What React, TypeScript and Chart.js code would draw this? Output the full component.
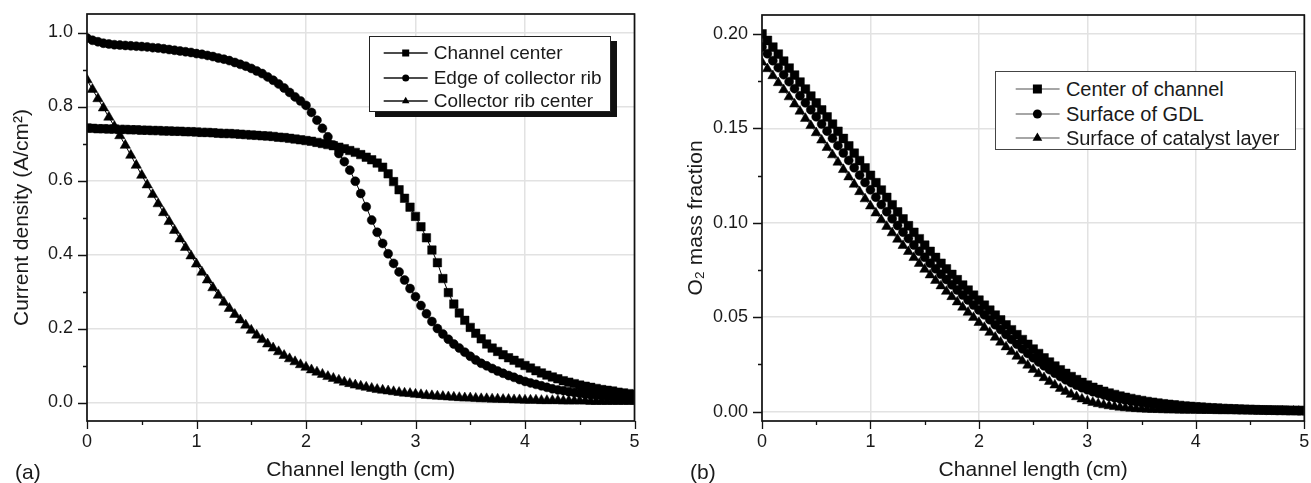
import React, { useEffect, useRef } from "react";
import { Chart, registerables } from "chart.js";

Chart.register(...registerables);

const FONT = "'Liberation Sans', Arial, Helvetica, sans-serif";

// ---------- data ----------
const channelX = [
  0, 0.05, 0.1, 0.15, 0.2, 0.25, 0.3, 0.35, 0.4, 0.45,
  0.5, 0.55, 0.6, 0.65, 0.7, 0.75, 0.8, 0.85, 0.9, 0.95,
  1, 1.05, 1.1, 1.15, 1.2, 1.25, 1.3, 1.35, 1.4, 1.45,
  1.5, 1.55, 1.6, 1.65, 1.7, 1.75, 1.8, 1.85, 1.9, 1.95,
  2, 2.05, 2.1, 2.15, 2.2, 2.25, 2.3, 2.35, 2.4, 2.45,
  2.5, 2.55, 2.6, 2.65, 2.7, 2.75, 2.8, 2.85, 2.9, 2.95,
  3, 3.05, 3.1, 3.15, 3.2, 3.25, 3.3, 3.35, 3.4, 3.45,
  3.5, 3.55, 3.6, 3.65, 3.7, 3.75, 3.8, 3.85, 3.9, 3.95,
  4, 4.05, 4.1, 4.15, 4.2, 4.25, 4.3, 4.35, 4.4, 4.45,
  4.5, 4.55, 4.6, 4.65, 4.7, 4.75, 4.8, 4.85, 4.9, 4.95, 5,
];

// (a) current density, A/cm2
const channelCenterA = [
  0.742, 0.741, 0.740, 0.740, 0.739, 0.739, 0.738, 0.738, 0.737, 0.737,
  0.736, 0.736, 0.735, 0.735, 0.734, 0.734, 0.733, 0.733, 0.732, 0.732,
  0.731, 0.730, 0.730, 0.729, 0.728, 0.727, 0.727, 0.726, 0.725, 0.724,
  0.723, 0.722, 0.721, 0.720, 0.719, 0.717, 0.716, 0.714, 0.712, 0.710,
  0.708, 0.706, 0.703, 0.700, 0.697, 0.694, 0.690, 0.686, 0.681, 0.676,
  0.670, 0.663, 0.656, 0.647, 0.636, 0.618, 0.597, 0.575, 0.552, 0.528,
  0.503, 0.475, 0.445, 0.412, 0.378, 0.335, 0.297, 0.266, 0.242, 0.222,
  0.203, 0.187, 0.172, 0.158, 0.147, 0.138, 0.129, 0.121, 0.114, 0.107,
  0.100, 0.093, 0.086, 0.080, 0.074, 0.069, 0.064, 0.059, 0.055, 0.051,
  0.047, 0.044, 0.041, 0.038, 0.035, 0.033, 0.031, 0.028, 0.026, 0.024, 0.022,
];
const ribEdgeA = [
  0.985, 0.979, 0.975, 0.971, 0.969, 0.967, 0.966, 0.965, 0.964, 0.963,
  0.962, 0.961, 0.959, 0.958, 0.956, 0.954, 0.952, 0.950, 0.948, 0.946,
  0.943, 0.941, 0.938, 0.935, 0.931, 0.928, 0.924, 0.919, 0.914, 0.909,
  0.903, 0.896, 0.889, 0.880, 0.871, 0.861, 0.850, 0.838, 0.826, 0.815,
  0.803, 0.784, 0.763, 0.741, 0.718, 0.696, 0.673, 0.651, 0.628, 0.598,
  0.565, 0.529, 0.493, 0.460, 0.430, 0.402, 0.376, 0.353, 0.331, 0.308,
  0.286, 0.262, 0.240, 0.219, 0.200, 0.185, 0.171, 0.158, 0.147, 0.136,
  0.125, 0.115, 0.106, 0.099, 0.092, 0.085, 0.079, 0.073, 0.068, 0.062,
  0.057, 0.053, 0.049, 0.045, 0.041, 0.037, 0.034, 0.032, 0.029, 0.027,
  0.025, 0.023, 0.021, 0.020, 0.018, 0.017, 0.016, 0.015, 0.014, 0.013, 0.012,
];
const ribCenterA = [
  0.872, 0.846, 0.821, 0.796, 0.771, 0.746, 0.721, 0.695, 0.668, 0.641,
  0.614, 0.588, 0.562, 0.537, 0.513, 0.489, 0.465, 0.442, 0.419, 0.396,
  0.374, 0.352, 0.331, 0.310, 0.290, 0.271, 0.254, 0.238, 0.223, 0.209,
  0.195, 0.182, 0.170, 0.158, 0.147, 0.137, 0.127, 0.118, 0.110, 0.102,
  0.095, 0.088, 0.082, 0.076, 0.070, 0.065, 0.060, 0.055, 0.051, 0.047,
  0.044, 0.041, 0.038, 0.035, 0.033, 0.031, 0.029, 0.027, 0.025, 0.024,
  0.022, 0.021, 0.019, 0.018, 0.017, 0.016, 0.015, 0.014, 0.013, 0.012,
  0.012, 0.011, 0.010, 0.010, 0.009, 0.009, 0.008, 0.008, 0.007, 0.007,
  0.006, 0.006, 0.006, 0.005, 0.005, 0.005, 0.005, 0.004, 0.004, 0.004,
  0.004, 0.004, 0.003, 0.003, 0.003, 0.003, 0.003, 0.003, 0.003, 0.003, 0.003,
];

// (b) O2 mass fraction
const channelCenterB = [
  0.2000, 0.1965, 0.1930, 0.1893, 0.1856, 0.1819, 0.1782, 0.1745, 0.1708, 0.1671,
  0.1634, 0.1597, 0.1560, 0.1522, 0.1484, 0.1446, 0.1407, 0.1368, 0.1329, 0.1290,
  0.1251, 0.1212, 0.1173, 0.1134, 0.1095, 0.1057, 0.1020, 0.0984, 0.0949, 0.0915,
  0.0881, 0.0848, 0.0816, 0.0785, 0.0755, 0.0726, 0.0698, 0.0670, 0.0643, 0.0616,
  0.0590, 0.0563, 0.0537, 0.0511, 0.0485, 0.0459, 0.0433, 0.0407, 0.0381, 0.0356,
  0.0331, 0.0307, 0.0284, 0.0262, 0.0241, 0.0221, 0.0202, 0.0185, 0.0169, 0.0154,
  0.0140, 0.0128, 0.0117, 0.0107, 0.0098, 0.0090, 0.0082, 0.0075, 0.0069, 0.0063,
  0.0058, 0.0053, 0.0049, 0.0045, 0.0041, 0.0038, 0.0035, 0.0032, 0.0029, 0.0027,
  0.0025, 0.0023, 0.0021, 0.0019, 0.0018, 0.0016, 0.0015, 0.0014, 0.0013, 0.0012,
  0.0011, 0.0010, 0.0009, 0.0009, 0.0008, 0.0007, 0.0007, 0.0006, 0.0006, 0.0005, 0.0005,
];
const gdlSurfaceB = [
  0.1930, 0.1895, 0.1858, 0.1821, 0.1784, 0.1747, 0.1710, 0.1672, 0.1635, 0.1598,
  0.1561, 0.1523, 0.1485, 0.1447, 0.1408, 0.1369, 0.1330, 0.1291, 0.1252, 0.1213,
  0.1174, 0.1135, 0.1096, 0.1058, 0.1021, 0.0985, 0.0950, 0.0916, 0.0882, 0.0849,
  0.0817, 0.0786, 0.0756, 0.0727, 0.0699, 0.0671, 0.0644, 0.0617, 0.0591, 0.0564,
  0.0538, 0.0512, 0.0486, 0.0460, 0.0434, 0.0408, 0.0382, 0.0357, 0.0332, 0.0308,
  0.0285, 0.0263, 0.0242, 0.0222, 0.0203, 0.0185, 0.0168, 0.0153, 0.0139, 0.0126,
  0.0115, 0.0105, 0.0096, 0.0088, 0.0080, 0.0073, 0.0067, 0.0061, 0.0056, 0.0051,
  0.0047, 0.0043, 0.0039, 0.0036, 0.0033, 0.0030, 0.0028, 0.0025, 0.0023, 0.0021,
  0.0020, 0.0018, 0.0017, 0.0015, 0.0014, 0.0013, 0.0012, 0.0011, 0.0010, 0.0010,
  0.0009, 0.0008, 0.0008, 0.0007, 0.0007, 0.0006, 0.0006, 0.0005, 0.0005, 0.0004, 0.0004,
];
const catalystSurfaceB = [
  0.1850, 0.1815, 0.1778, 0.1741, 0.1704, 0.1666, 0.1628, 0.1590, 0.1552, 0.1514,
  0.1476, 0.1437, 0.1398, 0.1359, 0.1320, 0.1281, 0.1242, 0.1203, 0.1164, 0.1126,
  0.1088, 0.1051, 0.1015, 0.0980, 0.0946, 0.0912, 0.0879, 0.0847, 0.0815, 0.0784,
  0.0753, 0.0723, 0.0694, 0.0665, 0.0636, 0.0608, 0.0580, 0.0552, 0.0525, 0.0498,
  0.0471, 0.0445, 0.0419, 0.0393, 0.0367, 0.0342, 0.0317, 0.0292, 0.0268, 0.0245,
  0.0222, 0.0200, 0.0179, 0.0159, 0.0140, 0.0122, 0.0106, 0.0091, 0.0078, 0.0066,
  0.0056, 0.0048, 0.0041, 0.0035, 0.0030, 0.0026, 0.0022, 0.0019, 0.0017, 0.0015,
  0.0013, 0.0012, 0.0011, 0.0010, 0.0009, 0.0008, 0.0008, 0.0007, 0.0007, 0.0006,
  0.0006, 0.0005, 0.0005, 0.0005, 0.0004, 0.0004, 0.0004, 0.0004, 0.0003, 0.0003,
  0.0003, 0.0003, 0.0003, 0.0002, 0.0002, 0.0002, 0.0002, 0.0002, 0.0002, 0.0002, 0.0002,
];

// ticks
const xTicks = [0, 1, 2, 3, 4, 5];
const xMinorTicks = [0.5, 1.5, 2.5, 3.5, 4.5];
const yTicksA = [0, 0.2, 0.4, 0.6, 0.8, 1.0];
const yMinorTicksA = [0.1, 0.3, 0.5, 0.7, 0.9];
const yTicksB = [0, 0.05, 0.1, 0.15, 0.2];
const yMinorTicksB = [0.025, 0.075, 0.125, 0.175];

const legendA = ["Channel center", "Edge of collector rib", "Collector rib center"];
const legendB = ["Center of channel", "Surface of GDL", "Surface of catalyst layer"];

// ---------- helpers ----------
function framePlugin(majX: number[], minX: number[], majY: number[], minY: number[]) {
  return {
    id: "frameTicks",
    afterDraw(chart: any) {
      const { ctx, chartArea: a, scales } = chart;
      ctx.save();
      ctx.strokeStyle = "#111";
      ctx.lineWidth = 1.7;
      ctx.strokeRect(a.left, a.top, a.right - a.left, a.bottom - a.top);
      ctx.lineWidth = 1.3;
      ctx.beginPath();
      for (const v of majX) {
        const p = Math.round(scales.x.getPixelForValue(v)) + 0.5;
        ctx.moveTo(p, a.bottom);
        ctx.lineTo(p, a.bottom + 8);
      }
      for (const v of minX) {
        const p = Math.round(scales.x.getPixelForValue(v)) + 0.5;
        ctx.moveTo(p, a.bottom);
        ctx.lineTo(p, a.bottom + 4);
      }
      for (const v of majY) {
        const p = Math.round(scales.y.getPixelForValue(v)) + 0.5;
        ctx.moveTo(a.left, p);
        ctx.lineTo(a.left - 9, p);
      }
      for (const v of minY) {
        const p = Math.round(scales.y.getPixelForValue(v)) + 0.5;
        ctx.moveTo(a.left, p);
        ctx.lineTo(a.left - 4, p);
      }
      ctx.stroke();
      ctx.restore();
    },
  };
}

function series(label: string, ys: number[], style: string, radius: number, lineColor: string) {
  return {
    label,
    data: channelX.map((x, i) => ({ x, y: ys[i] })),
    pointStyle: style,
    pointRadius: radius,
    pointBackgroundColor: "#000",
    pointBorderColor: "#000",
    pointBorderWidth: 0.5,
    borderColor: lineColor,
    borderWidth: 1,
    showLine: true,
    tension: 0,
    fill: false,
  };
}

function fixAxis(size: number, horizontal: boolean) {
  return (s: any) => {
    if (horizontal) s.height = size;
    else s.width = size;
    s.paddingLeft = 0;
    s.paddingRight = 0;
    s.paddingTop = 0;
    s.paddingBottom = 0;
  };
}

function buildConfig(opts: {
  datasets: any[];
  yMin: number;
  yMax: number;
  yTicks: number[];
  yMinor: number[];
  yDigits: number;
  yTitle: string;
  yAxisWidth: number;
  yTitlePad: number;
  padTop: number;
  padRight: number;
}) {
  const tickFont = { family: FONT, size: 18 };
  const titleFont = { family: FONT, size: 21 };
  return {
    type: "line",
    data: { datasets: opts.datasets },
    options: {
      animation: false,
      responsive: true,
      maintainAspectRatio: false,
      events: [],
      layout: { padding: { left: 0, top: opts.padTop, right: opts.padRight, bottom: 0 } },
      plugins: { legend: { display: false }, tooltip: { enabled: false } },
      scales: {
        x: {
          type: "linear",
          min: 0,
          max: 5,
          afterBuildTicks: (s: any) => {
            s.ticks = xTicks.map((v) => ({ value: v }));
          },
          afterFit: fixAxis(62, true),
          ticks: {
            font: tickFont,
            color: "#1a1a1a",
            padding: 10,
            maxRotation: 0,
            autoSkip: false,
            callback: (v: any) => String(v),
          },
          grid: { color: "#e2e2e2", lineWidth: 1.5, drawTicks: false },
          border: { display: false },
          title: {
            display: true,
            text: "Channel length (cm)",
            font: titleFont,
            color: "#1a1a1a",
            padding: { top: 0, bottom: 0 },
          },
        },
        y: {
          type: "linear",
          min: opts.yMin,
          max: opts.yMax,
          afterBuildTicks: (s: any) => {
            s.ticks = opts.yTicks.map((v) => ({ value: v }));
          },
          afterFit: fixAxis(opts.yAxisWidth, false),
          ticks: {
            font: tickFont,
            color: "#1a1a1a",
            padding: 14,
            autoSkip: false,
            callback: (v: any) => Number(v).toFixed(opts.yDigits),
          },
          grid: { color: "#e2e2e2", lineWidth: 1.5, drawTicks: false },
          border: { display: false },
          title: {
            display: true,
            text: opts.yTitle,
            font: titleFont,
            color: "#1a1a1a",
            padding: { top: opts.yTitlePad, bottom: 0 },
          },
        },
      },
    },
    plugins: [framePlugin(xTicks, xMinorTicks, opts.yTicks, opts.yMinor)],
  };
}

function ChartBox({ config, left, width }: { config: any; left: number; width: number }) {
  const ref = useRef<HTMLCanvasElement | null>(null);
  useEffect(() => {
    const chart = new Chart(ref.current as HTMLCanvasElement, config);
    return () => chart.destroy();
  }, []);
  return (
    <div style={{ position: "absolute", left, top: 0, width, height: 483 }}>
      <canvas ref={ref} />
    </div>
  );
}

function Marker({ shape, cx, cy, size }: { shape: string; cx: number; cy: number; size: number }) {
  const h = size / 2;
  if (shape === "rect") return <rect x={cx - h} y={cy - h} width={size} height={size} fill="#000" />;
  if (shape === "circle") return <circle cx={cx} cy={cy} r={h} fill="#000" />;
  const r = size * 0.62;
  const pts = `${cx},${cy - r} ${cx + r * 0.866},${cy + r * 0.5} ${cx - r * 0.866},${cy + r * 0.5}`;
  return <polygon points={pts} fill="#000" />;
}

function Legend(props: {
  left: number;
  top: number;
  width: number;
  height: number;
  labels: string[];
  rows: number[];
  lineX: [number, number];
  markX: number;
  textX: number;
  fontSize: number;
  lineColor: string;
  markSize: number;
  border: string;
  shadow?: string;
}) {
  const shapes = ["rect", "circle", "triangle"];
  return (
    <div
      style={{
        position: "absolute",
        left: props.left,
        top: props.top,
        width: props.width,
        height: props.height,
        boxSizing: "border-box",
        border: props.border,
        background: "#fff",
        boxShadow: props.shadow,
        fontFamily: FONT,
        color: "#1a1a1a",
      }}
    >
      {props.labels.map((lab, i) => (
        <div key={lab} style={{ position: "absolute", left: 0, top: props.rows[i] - 13, height: 26, width: "100%" }}>
          <svg width={props.textX} height={26} style={{ position: "absolute", left: 0, top: 0 }}>
            <line x1={props.lineX[0]} y1={13} x2={props.lineX[1]} y2={13} stroke={props.lineColor} strokeWidth={1.3} />
            <Marker shape={shapes[i]} cx={props.markX} cy={13} size={props.markSize} />
          </svg>
          <span
            style={{
              position: "absolute",
              left: props.textX,
              top: 0,
              lineHeight: "26px",
              fontSize: props.fontSize,
              whiteSpace: "nowrap",
            }}
          >
            {lab}
          </span>
        </div>
      ))}
    </div>
  );
}

export default function App() {
  const configA = buildConfig({
    datasets: [
      series(legendA[0], channelCenterA, "rect", 6, "#000"),
      series(legendA[1], ribEdgeA, "circle", 4.5, "#000"),
      series(legendA[2], ribCenterA, "triangle", 6, "#000"),
    ],
    yMin: -0.05,
    yMax: 1.05,
    yTicks: yTicksA,
    yMinor: yMinorTicksA,
    yDigits: 1,
    yTitle: "Current density (A/cm²)",
    yAxisWidth: 87,
    yTitlePad: 10,
    padTop: 14,
    padRight: 20.5,
  });
  const configB = buildConfig({
    datasets: [
      series(legendB[0], channelCenterB, "rect", 6.2, "#777"),
      series(legendB[1], gdlSurfaceB, "circle", 4.5, "#777"),
      series(legendB[2], catalystSurfaceB, "triangle", 5.8, "#777"),
    ],
    yMin: -0.005,
    yMax: 0.21,
    yTicks: yTicksB,
    yMinor: yMinorTicksB,
    yDigits: 2,
    yTitle: "O₂ mass fraction",
    yAxisWidth: 107,
    yTitlePad: 29,
    padTop: 15,
    padRight: 3,
  });

  const labelStyle = (left: number): React.CSSProperties => ({
    position: "absolute",
    left,
    top: 459,
    fontFamily: FONT,
    fontSize: 21,
    lineHeight: "25px",
    color: "#1a1a1a",
  });

  return (
    <div style={{ position: "absolute", left: 0, top: 0, width: 1311, height: 483, background: "#fff", overflow: "hidden" }}>
      <ChartBox config={configA} left={0} width={655} />
      <ChartBox config={configB} left={655} width={656} />
      <Legend
        left={369}
        top={36}
        width={242}
        height={76}
        labels={legendA}
        rows={[15.7, 40.5, 64]}
        lineX={[13.7, 57.7]}
        markX={35.7}
        textX={63.7}
        fontSize={19}
        lineColor="#111"
        markSize={7}
        border="1px solid #222"
        shadow="6px 5px 0 #111"
      />
      <Legend
        left={995}
        top={71}
        width={301}
        height={79}
        labels={legendB}
        rows={[16.5, 41.5, 65.5]}
        lineX={[19.7, 63.6]}
        markX={41.4}
        textX={69.9}
        fontSize={20}
        lineColor="#888"
        markSize={9}
        border="1.5px solid #444"
      />
      <div style={labelStyle(15)}>(a)</div>
      <div style={labelStyle(690)}>(b)</div>
    </div>
  );
}
